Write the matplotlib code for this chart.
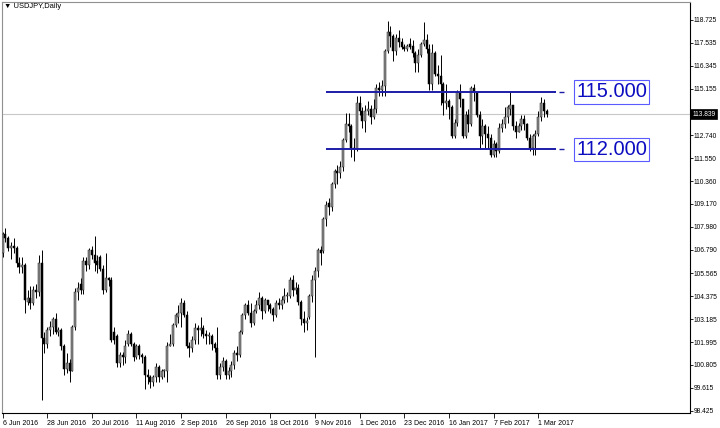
import matplotlib
matplotlib.use('Agg')
import matplotlib.pyplot as plt
from matplotlib.transforms import blended_transform_factory

# ---- data (USDJPY daily, 6 Jun 2016 .. 6 Mar 2017) ----
opens = [106.6, 107.6, 107.4, 106.9, 107.0, 106.9, 106.1, 105.9, 106.0, 104.1,
         104.3, 104.0, 104.7, 104.6, 106.1, 102.2, 101.9, 102.6, 102.8, 103.2,
         102.5, 102.6, 101.8, 100.6, 100.9, 100.5, 102.8, 104.6, 105.0, 104.7,
         106.2, 106.0, 106.8, 106.5, 106.2, 106.4, 105.8, 104.7, 105.3, 105.2,
         102.5, 102.3, 100.9, 101.3, 101.2, 101.9, 102.4, 101.9, 101.2, 101.8,
         101.3, 101.2, 100.3, 100.2, 99.9, 100.2, 100.7, 100.2, 100.5, 100.5,
         101.8, 101.9, 102.9, 103.3, 103.5, 104.0, 103.4, 101.8, 101.7, 102.1,
         102.7, 102.6, 102.7, 102.4, 102.3, 102.3, 101.9, 101.7, 100.3, 100.7,
         101.0, 100.3, 100.5, 100.8, 101.4, 101.3, 102.5, 103.4, 103.9, 103.5,
         103.0, 103.6, 103.9, 104.3, 103.6, 104.2, 103.9, 103.7, 103.4, 104.0,
         103.9, 104.2, 104.4, 104.4, 105.2, 104.7, 104.8, 104.1, 103.2, 103.0,
         103.3, 104.4, 105.2, 105.7, 106.8, 106.7, 108.4, 109.2, 109.0, 110.2,
         110.9, 110.8, 111.1, 112.5, 113.3, 113.2, 112.1, 112.0, 114.4, 114.0,
         113.5, 114.0, 114.1, 113.7, 114.1, 115.2, 115.1, 115.3, 117.1, 118.1,
         117.9, 117.1, 117.8, 117.6, 117.3, 117.2, 117.5, 117.4, 117.0, 116.5,
         116.9, 117.5, 117.7, 117.2, 115.4, 117.0, 115.9, 115.8, 115.4, 114.4,
         114.5, 114.2, 112.7, 113.4, 115.0, 114.6, 112.7, 113.8, 113.3, 115.2,
         115.0, 113.8, 112.7, 113.2, 112.8, 112.6, 111.7, 112.3, 111.9, 113.1,
         113.3, 113.7, 114.1, 114.3, 113.2, 112.9, 113.2, 113.6, 113.3, 112.6,
         112.1, 112.7, 112.8, 113.7, 114.4, 114.0]
highs = [107.7, 107.9, 107.5, 107.2, 107.4, 107.0, 106.4, 106.4, 106.1, 104.7,
         104.9, 104.9, 105.0, 106.5, 106.8, 102.5, 102.8, 103.1, 103.3, 103.5,
         102.8, 102.7, 101.9, 101.4, 101.1, 102.9, 104.8, 105.1, 105.3, 106.4,
         106.4, 106.9, 107.0, 107.5, 106.5, 106.5, 106.0, 106.6, 105.4, 105.4,
         102.8, 102.4, 101.5, 101.5, 102.1, 102.6, 102.5, 102.0, 101.9, 101.9,
         101.4, 101.3, 100.6, 100.3, 100.3, 100.9, 100.8, 100.6, 100.6, 102.0,
         102.4, 103.0, 103.5, 103.9, 104.3, 104.2, 103.6, 102.0, 102.3, 103.0,
         102.9, 103.3, 102.9, 102.6, 102.5, 102.4, 102.0, 102.8, 100.9, 101.2,
         101.1, 100.7, 101.0, 101.6, 101.8, 102.6, 103.5, 104.0, 104.2, 104.0,
         103.7, 104.2, 104.6, 104.4, 104.3, 104.2, 104.0, 103.8, 104.2, 104.3,
         104.4, 104.8, 104.6, 105.4, 105.5, 105.1, 105.0, 104.2, 103.6, 103.3,
         104.5, 105.5, 105.9, 106.9, 107.0, 108.5, 109.3, 109.5, 110.3, 111.0,
         111.2, 111.4, 112.6, 113.9, 113.9, 113.3, 112.6, 114.8, 114.8, 114.2,
         114.3, 114.5, 114.3, 114.6, 115.4, 115.5, 115.6, 117.2, 118.66, 118.4,
         118.0, 118.0, 118.2, 117.8, 117.5, 117.5, 117.8, 117.7, 117.1, 117.2,
         117.6, 118.6, 118.0, 117.5, 117.5, 117.1, 116.4, 116.9, 115.5, 115.4,
         114.6, 114.3, 113.6, 115.1, 115.4, 114.6, 114.0, 114.1, 115.3, 115.4,
         115.0, 114.0, 113.6, 113.3, 113.2, 112.8, 112.5, 112.4, 113.4, 113.6,
         114.2, 114.3, 115.0, 114.3, 113.5, 113.4, 113.8, 113.8, 113.4, 112.8,
         112.8, 113.0, 114.0, 114.7, 114.6, 114.1]
lows = [106.4, 107.2, 106.7, 106.3, 106.6, 105.9, 105.6, 105.6, 103.5, 103.9,
        103.7, 103.9, 104.3, 104.4, 99.0, 101.4, 101.7, 102.3, 102.4, 102.4,
        102.3, 101.6, 100.3, 100.4, 99.9, 100.5, 102.6, 104.2, 104.5, 104.5,
        105.7, 105.8, 106.3, 105.7, 105.6, 105.7, 104.5, 104.6, 104.9, 102.0,
        101.9, 100.7, 100.7, 100.8, 100.9, 101.8, 101.8, 101.0, 101.1, 101.1,
        100.9, 99.55, 99.8, 99.6, 99.7, 99.9, 99.9, 100.1, 100.2, 99.9,
        101.8, 101.8, 102.8, 103.0, 102.8, 103.3, 101.7, 101.2, 101.5, 101.9,
        101.9, 102.3, 102.2, 101.9, 101.9, 101.6, 101.5, 100.1, 100.1, 100.5,
        100.1, 100.1, 100.2, 100.6, 101.0, 101.2, 102.4, 103.2, 103.4, 102.8,
        102.9, 103.5, 103.7, 103.2, 103.5, 103.6, 103.5, 103.1, 103.3, 103.7,
        103.7, 104.0, 104.1, 104.3, 104.4, 104.5, 103.9, 102.9, 102.5, 102.6,
        103.2, 104.1, 101.2, 105.4, 106.0, 106.6, 108.0, 108.6, 108.8, 110.0,
        110.2, 110.5, 110.9, 112.4, 112.9, 111.6, 111.4, 111.9, 113.8, 113.1,
        112.9, 113.8, 113.3, 113.6, 113.9, 114.8, 114.8, 114.8, 117.0, 117.3,
        116.6, 116.9, 117.3, 117.2, 117.1, 117.1, 117.2, 116.8, 116.0, 116.0,
        116.8, 117.4, 117.0, 115.1, 115.1, 115.8, 115.4, 114.3, 113.8, 114.1,
        113.6, 112.6, 112.6, 113.2, 114.2, 112.6, 112.6, 112.9, 113.2, 114.5,
        113.7, 112.1, 112.3, 112.1, 112.1, 111.6, 111.6, 111.6, 111.8, 112.9,
        113.1, 113.4, 113.8, 113.0, 112.6, 112.9, 113.0, 113.0, 112.5, 111.9,
        111.7, 111.7, 112.7, 113.5, 113.7, 113.7]
closes = [107.6, 107.4, 106.9, 107.0, 106.9, 106.1, 105.9, 106.0, 104.2, 104.3,
          104.0, 104.7, 104.6, 106.1, 102.2, 101.9, 102.6, 102.8, 103.2, 102.5,
          102.6, 101.8, 100.6, 100.9, 100.5, 102.8, 104.6, 104.8, 104.7, 106.2,
          106.0, 106.8, 106.5, 106.1, 106.0, 105.8, 104.7, 105.3, 105.2, 102.1,
          102.1, 100.9, 101.3, 101.2, 101.8, 102.4, 101.9, 101.2, 101.8, 101.3,
          101.2, 100.3, 100.2, 99.9, 100.2, 100.7, 100.2, 100.5, 100.5, 101.8,
          101.9, 102.9, 103.4, 103.5, 104.0, 103.4, 101.8, 101.7, 102.1, 102.7,
          102.6, 102.7, 102.4, 102.3, 102.3, 101.9, 101.7, 100.3, 100.7, 101.0,
          100.3, 100.5, 100.8, 101.4, 101.3, 102.5, 103.4, 103.9, 103.5, 103.0,
          103.6, 103.9, 104.3, 103.6, 104.2, 103.9, 103.7, 103.4, 104.0, 103.9,
          104.2, 104.4, 104.4, 105.2, 104.7, 104.8, 104.1, 103.2, 103.0, 103.1,
          104.4, 105.2, 105.7, 106.8, 106.6, 108.4, 109.1, 109.0, 110.2, 110.9,
          110.8, 111.1, 112.5, 113.3, 113.2, 112.1, 112.0, 114.4, 114.0, 113.5,
          114.0, 114.1, 113.7, 114.1, 115.2, 115.1, 115.3, 117.1, 118.1, 117.9,
          117.1, 117.8, 117.6, 117.3, 117.2, 117.4, 117.3, 117.0, 116.5, 116.9,
          117.5, 117.7, 117.2, 115.4, 117.0, 115.9, 115.8, 115.4, 114.4, 114.5,
          114.2, 112.7, 113.4, 115.0, 114.6, 112.7, 113.8, 113.3, 115.2, 115.0,
          113.8, 112.7, 113.2, 112.8, 112.6, 111.7, 112.3, 111.9, 113.1, 113.3,
          113.7, 114.2, 114.3, 113.2, 112.9, 113.2, 113.6, 113.3, 112.6, 112.1,
          112.7, 112.8, 113.7, 114.4, 114.0, 113.84]

date_labels = ['6 Jun 2016', '28 Jun 2016', '20 Jul 2016', '11 Aug 2016',
               '2 Sep 2016', '26 Sep 2016', '18 Oct 2016', '9 Nov 2016',
               '1 Dec 2016', '23 Dec 2016', '16 Jan 2017', '7 Feb 2017',
               '1 Mar 2017']
date_label_bars = [0, 16, 32, 48, 64, 80, 96, 112, 128, 144, 160, 176, 192]

price_ticks = [118.725, 117.535, 116.345, 115.155, 113.965, 112.740, 111.550,
               110.360, 109.170, 107.980, 106.790, 105.565, 104.375, 103.185,
               101.995, 100.805, 99.615, 98.425]
price_tick_labels = ['118.725', '117.535', '116.345', '115.155', '',
                     '112.740', '111.550', '110.360', '109.170', '107.980',
                     '106.790', '105.565', '104.375', '103.185', '101.995',
                     '100.805', '99.615', '98.425']

levels = [115.0, 112.0]
level_labels = ['115.000', '112.000']
level_start_bar = 115.8
level_end_bar = 198.2
current_price = 113.839
current_label = '113.839'
title = '\u25bc USDJPY,Daily'

fam = ['Liberation Sans', 'DejaVu Sans']

# ---- figure ----
W, H = 720, 428
fig = plt.figure(figsize=(W / 100, H / 100), dpi=100)
fig.patch.set_facecolor('white')
ax = fig.add_axes([2 / W, (H - 413) / H, 688 / W, 411 / H])
ax.set_facecolor('white')
ax.set_xlim(-0.2, 246.4)
ax.set_ylim(98.309, 119.66)

# current price line
ax.axhline(current_price, color='#c8c8c8', lw=0.8, zorder=1)

# candles
xs = list(range(len(closes)))
ax.vlines(xs, lows, highs, color='black', lw=0.7, zorder=2)
up_x, up_b, up_h, dn_x, dn_b, dn_h = [], [], [], [], [], []
for i, (o, c) in enumerate(zip(opens, closes)):
    b = min(o, c)
    h = max(abs(c - o), 0.04)
    if c >= o:
        up_x.append(i); up_b.append(b); up_h.append(h)
    else:
        dn_x.append(i); dn_b.append(b); dn_h.append(h)
ax.bar(up_x, up_h, bottom=up_b, width=0.72, color='#8e8e8e',
       edgecolor='#202020', linewidth=0.35, zorder=3)
ax.bar(dn_x, dn_h, bottom=dn_b, width=0.72, color='black',
       edgecolor='black', linewidth=0.35, zorder=3)

# support / resistance lines with labels
blue_line = '#1c1ca8'
for lv, lab in zip(levels, level_labels):
    ax.hlines(lv, level_start_bar, level_end_bar, color=blue_line, lw=1.4, zorder=4)
    ax.hlines(lv, 199.3, 201.2, color=blue_line, lw=1.0, zorder=4, clip_on=False)
    ax.text(218.3, lv, lab, ha='center', va='center', fontsize=14.5,
            family=fam, color='#0c0cc0', zorder=5,
            bbox=dict(boxstyle='square,pad=0.12', fc='white', ec='#5a5aff', lw=0.8))

# axes styling
for s in ['left', 'top']:
    ax.spines[s].set_color('#909090')
    ax.spines[s].set_linewidth(0.8)
for s in ['right', 'bottom']:
    ax.spines[s].set_color('black')
    ax.spines[s].set_linewidth(0.8)

ax.yaxis.tick_right()
ax.set_yticks(price_ticks)
ax.set_yticklabels(price_tick_labels, fontsize=4.8, family=fam)
ax.tick_params(axis='y', length=2.2, width=0.6, pad=0.6, colors='black')

ax.set_xticks(date_label_bars)
ax.set_xticklabels(date_labels, fontsize=5, family=fam, ha='left')
ax.tick_params(axis='x', length=3.5, width=0.6, pad=1.5, colors='black')

# current price label on right axis
tr = blended_transform_factory(ax.transAxes, ax.transData)
ax.text(1.003, current_price, current_label, transform=tr, ha='left', va='center',
        fontsize=4.8, family=fam, color='white', zorder=10, clip_on=False,
        bbox=dict(boxstyle='square,pad=0.25', fc='black', ec='black', lw=0.5))

# title
fig.text(4 / W, 1 - 3 / H, title, ha='left', va='top', fontsize=5.4,
         family=fam, color='black')

fig.savefig('out.png', dpi=100, facecolor='white')
